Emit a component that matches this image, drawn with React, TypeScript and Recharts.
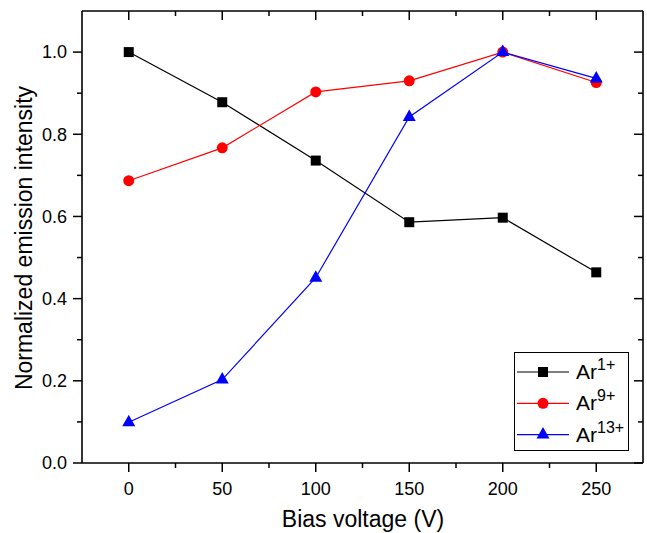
import React from 'react';
import { LineChart, Line, XAxis, YAxis, Legend, Label } from 'recharts';

const voltages = [0, 50, 100, 150, 200, 250];
const ar1 = [1.0, 0.878, 0.736, 0.586, 0.597, 0.464];
const ar9 = [0.687, 0.767, 0.903, 0.93, 1.0, 0.926];
const ar13 = [0.099, 0.203, 0.451, 0.842, 1.0, 0.936];

const xTicks = [0, 25, 50, 75, 100, 125, 150, 175, 200, 225, 250];
const yTicks = [0, 0.1, 0.2, 0.3, 0.4, 0.5, 0.6, 0.7, 0.8, 0.9, 1.0];

const data = voltages.map((v, i) => ({ voltage: v, ar1: ar1[i], ar9: ar9[i], ar13: ar13[i] }));

const FONT = '"Liberation Sans", Arial, Helvetica, sans-serif';
const AXIS_W = 1.6;
const MAJOR = 9;
const MINOR = 5;
const X_DOMAIN: [number, number] = [-25, 275];
const Y_DOMAIN: [number, number] = [0, 1.1];

const isMajorX = (v: number) => v % 50 === 0;
const isMajorY = (v: number) => Math.round(v * 10) % 2 === 0;

// tick lines drawn by hand so minor ticks can be shorter
const BottomTick = ({ x, y, payload }: any) => {
  const major = isMajorX(payload.value);
  return (
    <g>
      <path d={`M${x},${y}L${x},${y + (major ? MAJOR : MINOR)}`} stroke="#000" strokeWidth={1.5} />
      {major && (
        <text x={x} y={y + 32} textAnchor="middle" fontSize={18} fontFamily={FONT} fill="#000">
          {payload.value}
        </text>
      )}
    </g>
  );
};

// top/right mirror axes: ticks point into the plot, no labels
const TopTick = ({ x, y, payload }: any) => (
  <path d={`M${x},${y}L${x},${y + (isMajorX(payload.value) ? MAJOR : MINOR)}`} stroke="#000" strokeWidth={1.5} />
);

const LeftTick = ({ x, y, payload }: any) => {
  const major = isMajorY(payload.value);
  return (
    <g>
      <path d={`M${x},${y}L${x - (major ? MAJOR : MINOR)},${y}`} stroke="#000" strokeWidth={1.5} />
      {major && (
        <text x={x - 15} y={y} dy="0.35em" textAnchor="end" fontSize={18} fontFamily={FONT} fill="#000">
          {payload.value.toFixed(1)}
        </text>
      )}
    </g>
  );
};

const RightTick = ({ x, y, payload }: any) => (
  <path d={`M${x},${y}L${x - (isMajorY(payload.value) ? MAJOR : MINOR)},${y}`} stroke="#000" strokeWidth={1.5} />
);

const Square = ({ cx, cy }: any) => <rect x={cx - 5} y={cy - 5} width={10} height={10} fill="#000" />;
const Circle = ({ cx, cy }: any) => <circle cx={cx} cy={cy} r={5.5} fill="#ff0000" />;
const Triangle = ({ cx, cy }: any) => (
  <polygon points={`${cx},${cy - 7.5} ${cx - 6.5},${cy + 4} ${cx + 6.5},${cy + 4}`} fill="#0000ff" />
);

// Ar13+ is plotted against the mirror axes (same scales) so they get drawn
const series = [
  { key: 'ar1', color: '#000000', sup: '1+', Dot: Square, xId: 'bottom', yId: 'left' },
  { key: 'ar9', color: '#ff0000', sup: '9+', Dot: Circle, xId: 'bottom', yId: 'left' },
  { key: 'ar13', color: '#0000ff', sup: '13+', Dot: Triangle, xId: 'top', yId: 'right' },
];

const renderLegend = () => (
  <svg width={115} height={99} style={{ display: 'block' }}>
    <rect x={0.5} y={0.5} width={114} height={98} fill="#fff" stroke="#000" strokeWidth={1} />
    {series.map((s, i) => {
      const cy = 20 + i * 31.3;
      const Dot = s.Dot;
      return (
        <g key={s.key}>
          <line x1={3} y1={cy} x2={55} y2={cy} stroke={s.color} strokeWidth={1.2} />
          <Dot cx={29} cy={cy} />
          <text x={62} y={cy + 7} fontSize={21} fontFamily={FONT} fill="#000">
            Ar
            <tspan dy={-9} fontSize={16}>{s.sup}</tspan>
          </text>
        </g>
      );
    })}
  </svg>
);

const App = () => (
  <div style={{ position: 'absolute', left: 0, top: 0, width: 647, height: 533, background: '#fff' }}>
    <LineChart width={647} height={533} data={data} margin={{ top: 10, right: 3, bottom: 0, left: 22 }}>
      <XAxis
        xAxisId="bottom"
        dataKey="voltage"
        type="number"
        domain={X_DOMAIN}
        ticks={xTicks}
        interval={0}
        height={70}
        tickSize={0}
        tickMargin={0}
        tickLine={false}
        tick={BottomTick}
        axisLine={{ stroke: '#000', strokeWidth: AXIS_W }}
      >
        <Label
          content={() => (
            <text x={363} y={527} textAnchor="middle" fontSize={23} fontFamily={FONT} fill="#000">
              Bias voltage (V)
            </text>
          )}
        />
      </XAxis>
      <XAxis
        xAxisId="top"
        orientation="top"
        dataKey="voltage"
        type="number"
        domain={X_DOMAIN}
        ticks={xTicks}
        interval={0}
        height={1}
        tickSize={0}
        tickMargin={0}
        tickLine={false}
        tick={TopTick}
        axisLine={{ stroke: '#000', strokeWidth: AXIS_W }}
      />
      <YAxis
        yAxisId="left"
        type="number"
        domain={Y_DOMAIN}
        ticks={yTicks}
        interval={0}
        width={60}
        tickSize={0}
        tickMargin={0}
        tickLine={false}
        tick={LeftTick}
        axisLine={{ stroke: '#000', strokeWidth: AXIS_W }}
      >
        <Label
          content={() => (
            <text transform="translate(32, 238) rotate(-90)" textAnchor="middle" fontSize={23} fontFamily={FONT} fill="#000">
              Normalized emission intensity
            </text>
          )}
        />
      </YAxis>
      <YAxis
        yAxisId="right"
        orientation="right"
        type="number"
        domain={Y_DOMAIN}
        ticks={yTicks}
        interval={0}
        width={1}
        tickSize={0}
        tickMargin={0}
        tickLine={false}
        tick={RightTick}
        axisLine={{ stroke: '#000', strokeWidth: AXIS_W }}
      />
      <Legend
        layout="horizontal"
        verticalAlign="middle"
        align="center"
        wrapperStyle={{ position: 'absolute', left: 514, top: 352, width: 115, height: 99 }}
        content={renderLegend}
      />
      {series.map((s) => {
        const Dot = s.Dot;
        return (
          <Line
            key={s.key}
            xAxisId={s.xId}
            yAxisId={s.yId}
            type="linear"
            dataKey={s.key}
            stroke={s.color}
            strokeWidth={1.2}
            dot={(p: any) => <Dot key={`${s.key}-${p.index}`} cx={p.cx} cy={p.cy} />}
            activeDot={false}
            isAnimationActive={false}
          />
        );
      })}
    </LineChart>
  </div>
);

export default App;
